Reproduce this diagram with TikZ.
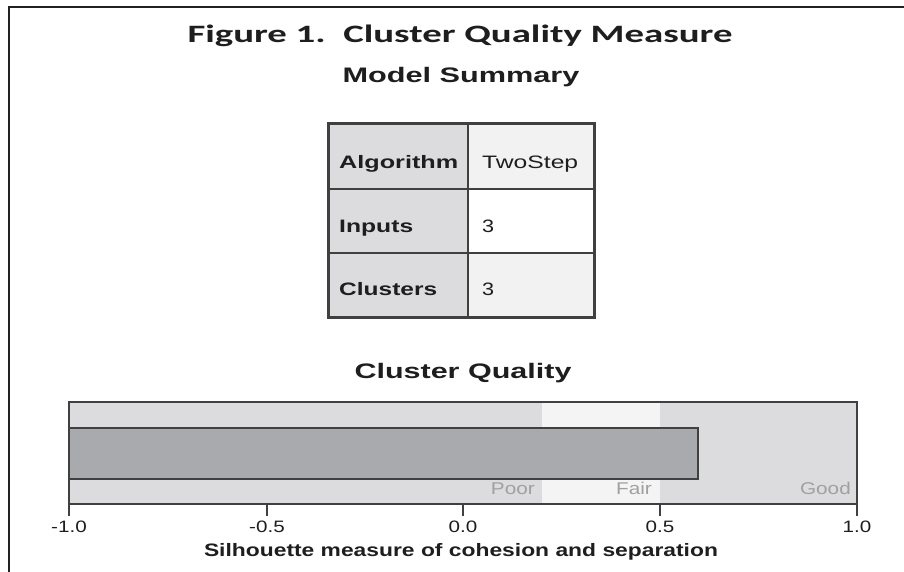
\documentclass[tikz,border=0pt]{standalone}
\usepackage{fontspec}
\usepackage{graphicx}
\setmainfont{Liberation Sans}
\newfontfamily\calib{Carlito}
\newlength\tmpw
\newcommand\fitw[2]{\settowidth\tmpw{#2}\pgfmathsetmacro\fsc{#1/\tmpw}\scalebox{\fsc}[1]{#2}}
\definecolor{frame}{HTML}{222222}
\definecolor{tline}{HTML}{404040}
\definecolor{lgray}{HTML}{DCDCDE}
\definecolor{vlgray}{HTML}{F2F2F2}
\definecolor{fairc}{HTML}{F4F4F4}
\definecolor{barc}{HTML}{A9AAAD}
\definecolor{qual}{HTML}{A0A0A0}
\definecolor{txt}{HTML}{1E1E1E}
\begin{document}
\begin{tikzpicture}[x=1pt,y=-1pt,
  lbl/.style={inner sep=0pt, anchor=base, text=txt},
  cell/.style={draw=tline, line width=1.5pt, inner sep=0pt, minimum height=#1, minimum width=139pt},
  cellR/.style={draw=tline, line width=1.5pt, inner sep=0pt, minimum height=#1, minimum width=126pt},
  tickl/.style={draw=tline, line width=1.5pt},
  ticklab/.style={inner sep=0pt, anchor=base, text=txt, font=\fontsize{16.5}{18}\selectfont},
  qlab/.style={inner sep=0pt, anchor=base east, text=qual, font=\fontsize{17}{19}\selectfont}]
\useasboundingbox (0,0) rectangle (904,572);
\fill[white] (0,0) rectangle (904,572);
\draw[line width=2.5pt, draw=frame] (904,7) -- (9,7) -- (9,573);

% titles
\node[lbl] (title) at (460,43) {\fitw{545}{\calib\fontsize{25}{30}\selectfont\bfseries Figure 1.\ \ Cluster Quality Measure}};
\node[lbl] (msum) at (461,83) {\fitw{237}{\fontsize{21}{24}\selectfont\bfseries Model Summary}};

% table cells
\node[cell=65pt, fill=lgray] (a1) at (398.5,156.5) {};
\node[cellR=65pt, fill=vlgray] (b1) at (531,156.5) {};
\node[cell=64pt, fill=lgray] (a2) at (398.5,221) {};
\node[cellR=64pt, fill=white] (b2) at (531,221) {};
\node[cell=64pt, fill=lgray] (a3) at (398.5,285) {};
\node[cellR=64pt, fill=vlgray] (b3) at (531,285) {};
\draw[tline, line width=2pt] (a1.north west) rectangle (b3.south east);

\node[lbl, anchor=base west] (t1) at (339,168) {\fitw{119}{\fontsize{18}{20}\selectfont\bfseries Algorithm}};
\node[lbl, anchor=base west] (t2) at (339,232) {\fitw{74}{\fontsize{18}{20}\selectfont\bfseries Inputs}};
\node[lbl, anchor=base west] (t3) at (339,295) {\fitw{98}{\fontsize{18}{20}\selectfont\bfseries Clusters}};
\node[lbl, anchor=base west] (v1) at (482,168) {\fitw{96}{\fontsize{18}{20}\selectfont TwoStep}};
\node[lbl, anchor=base west] (v2) at (482,232) {\scalebox{1.2}[1]{\fontsize{18}{20}\selectfont 3}};
\node[lbl, anchor=base west] (v3) at (482,295) {\scalebox{1.2}[1]{\fontsize{18}{20}\selectfont 3}};

% chart
\node[lbl] (cq) at (463,378) {\fitw{217}{\fontsize{21}{24}\selectfont\bfseries Cluster Quality}};
\fill[lgray] (69,402) rectangle (857,504);
\fill[fairc] (542,402) rectangle (660,504);
\draw[tline, line width=1.5pt] (69,402) rectangle (857,504);
\node[draw=tline, line width=1.5pt, fill=barc, inner sep=0pt, minimum width=629pt, minimum height=51pt] (bar) at (383.5,453.5) {};

\node[qlab] (poor) at (535,494) {\scalebox{1.22}[1]{Poor}};
\node[qlab] (fair) at (652,494) {\scalebox{1.22}[1]{Fair}};
\node[qlab] (good) at (851,494) {\scalebox{1.22}[1]{Good}};

\foreach \x/\l/\n in {69/-1.0/k1, 267/-0.5/k2, 463/0.0/k3, 660/0.5/k4, 857/1.0/k5}{
  \coordinate (\n t) at (\x,504);
  \coordinate (\n b) at (\x,516);
  \draw[tickl] (\n t) -- (\n b);
  \node[ticklab] (\n) at (\x,532) {\scalebox{1.25}[1]{\l}};
}
\node[lbl] (axt) at (461,556) {\fitw{514}{\fontsize{18}{20}\selectfont\bfseries Silhouette measure of cohesion and separation}};
\end{tikzpicture}
\end{document}
